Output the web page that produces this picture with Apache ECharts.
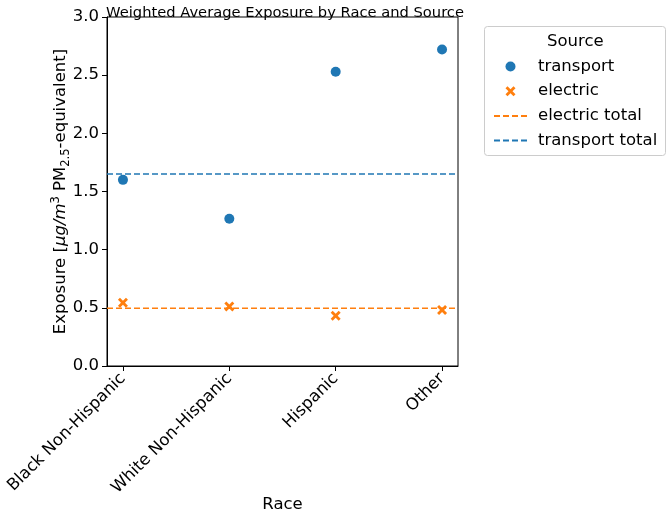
<!DOCTYPE html>
<html>
<head>
<meta charset="utf-8">
<script src="https://cdn.jsdelivr.net/npm/echarts@6/dist/echarts.min.js"></script>
<style>html,body{margin:0;padding:0;background:#fff;}#c{width:666px;height:518px;}</style>
</head>
<body>
<div id="c"></div>
<script>
var categories = ['Black Non-Hispanic', 'White Non-Hispanic', 'Hispanic', 'Other'];
var transport = [1.60, 1.265, 2.53, 2.72];
var electric = [0.543, 0.512, 0.431, 0.482];
var electricTotal = 0.497;
var transportTotal = 1.651;
var yTicks = [0, 0.5, 1.0, 1.5, 2.0, 2.5, 3.0];

var FONT = 'DejaVu Sans';
var BLUE = '#1f77b4', ORANGE = '#ff7f0e';
var xPath = 'path://M0.2,0 L0.5,0.3 L0.8,0 L1,0.2 L0.7,0.5 L1,0.8 L0.8,1 L0.5,0.7 L0.2,1 L0,0.8 L0.3,0.5 L0,0.2 Z';

function pts(arr) { return arr.map(function (v, i) { return [i, v]; }); }
function hline(v) { return [[-0.15, v], [3.15, v]]; }

var chart = echarts.init(document.getElementById('c'), null, {renderer: 'canvas'});
chart.setOption({
  animation: false,
  backgroundColor: '#fff',
  textStyle: {fontFamily: FONT},
  title: {
    text: 'Weighted Average Exposure by Race and Source',
    left: 280, top: 1, textAlign: 'center',
    textStyle: {fontFamily: FONT, fontSize: 14.7, fontWeight: 'normal', color: '#000'}
  },
  grid: {left: 107, right: 208, top: 17, bottom: 152, show: true, borderColor: '#000', borderWidth: 1,
    backgroundColor: 'transparent', containLabel: false, outerBoundsMode: 'none'},
  xAxis: {
    type: 'value', min: -0.15, max: 3.15,
    name: 'Race', nameLocation: 'middle', nameGap: 130, nameMoveOverlap: false,
    nameTextStyle: {fontFamily: FONT, fontSize: 16.5, color: '#000'},
    axisLine: {show: true, onZero: false, lineStyle: {color: '#000', width: 1}},
    axisTick: {show: true, length: 5, lineStyle: {color: '#000'}, customValues: [0, 1, 2, 3]},
    axisLabel: {
      customValues: [0, 1, 2, 3], rotate: 45, margin: 10,
      fontFamily: FONT, fontSize: 16.5, color: '#000',
      formatter: function (v) { return categories[Math.round(v)]; }
    },
    splitLine: {show: false}
  },
  yAxis: {
    type: 'value', min: 0, max: 3, interval: 0.5,
    name: 'Exposure [{i|μg/m}{sup|3} PM{sub|2.5}-equivalent]',
    nameLocation: 'middle', nameRotate: 90, nameGap: 35, nameMoveOverlap: false,
    nameTextStyle: {
      fontFamily: FONT, fontSize: 16.5, color: '#000', lineHeight: 22,
      rich: {
        i: {fontFamily: FONT, fontSize: 16.5, fontStyle: 'italic', color: '#000', lineHeight: 22},
        sup: {fontFamily: FONT, fontSize: 11.5, color: '#000', lineHeight: 11, verticalAlign: 'top'},
        sub: {fontFamily: FONT, fontSize: 11.5, color: '#000', lineHeight: 11, verticalAlign: 'bottom'}
      }
    },
    axisLine: {show: true, onZero: false, lineStyle: {color: '#000', width: 1}},
    axisTick: {show: true, length: 5, lineStyle: {color: '#000'}},
    axisLabel: {
      fontFamily: FONT, fontSize: 16.5, color: '#000', margin: 8,
      formatter: function (v) { return v.toFixed(1); }
    },
    splitLine: {show: false}
  },
  legend: {
    orient: 'vertical', left: 488, top: 53,
    itemWidth: 33, itemHeight: 10, itemGap: 7.7,
    data: [
      {name: 'transport'},
      {name: 'electric'},
      {name: 'electric total', itemStyle: {opacity: 0}},
      {name: 'transport total', itemStyle: {opacity: 0}}
    ],
    textStyle: {fontFamily: FONT, fontSize: 16.5, color: '#000', lineHeight: 16, padding: [0, 0, 0, 6]}
  },
  graphic: [
    {type: 'rect', left: 484, top: 26, z: -1,
      shape: {width: 181, height: 129, r: 3},
      style: {fill: '#fff', stroke: '#cccccc', lineWidth: 1}},
    {type: 'text', left: 547, top: 33,
      style: {text: 'Source', fontFamily: FONT, fontSize: 16.5, fill: '#000'}}
  ],
  series: [
    {name: 'transport', type: 'scatter', data: pts(transport), symbol: 'circle', symbolSize: 10,
      itemStyle: {color: BLUE, opacity: 1}, z: 5},
    {name: 'electric', type: 'scatter', data: pts(electric), symbol: xPath, symbolSize: 10,
      symbolKeepAspect: true, itemStyle: {color: ORANGE, opacity: 1}, z: 5},
    {name: 'electric total', type: 'line', data: hline(electricTotal), symbol: 'none',
      lineStyle: {color: ORANGE, width: 1.5, type: [6, 3]}, itemStyle: {color: ORANGE}, z: 3},
    {name: 'transport total', type: 'line', data: hline(transportTotal), symbol: 'none',
      lineStyle: {color: BLUE, width: 1.5, type: [6, 3]}, itemStyle: {color: BLUE}, z: 3}
  ]
});
</script>
</body>
</html>
